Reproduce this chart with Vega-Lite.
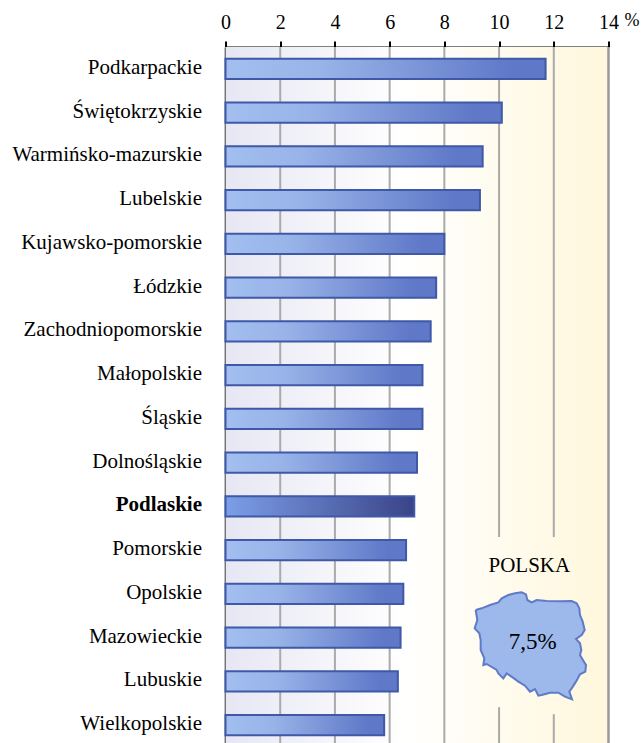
{"$schema":"https://vega.github.io/schema/vega-lite/v6.json","width":383,"height":696,"autosize":{"type":"none"},"padding":{"left":225.5,"top":47,"right":34.5,"bottom":0},"background":"white","view":{"stroke":null},"config":{"font":"Liberation Serif"},
"datasets":{"woj":[{"name":"Podkarpackie","v":11.7,"h":0},{"name":"Świętokrzyskie","v":10.1,"h":0},{"name":"Warmińsko-mazurskie","v":9.4,"h":0},{"name":"Lubelskie","v":9.3,"h":0},{"name":"Kujawsko-pomorskie","v":8.0,"h":0},{"name":"Łódzkie","v":7.7,"h":0},{"name":"Zachodniopomorskie","v":7.5,"h":0},{"name":"Małopolskie","v":7.2,"h":0},{"name":"Śląskie","v":7.2,"h":0},{"name":"Dolnośląskie","v":7.0,"h":0},{"name":"Podlaskie","v":6.9,"h":1},{"name":"Pomorskie","v":6.6,"h":0},{"name":"Opolskie","v":6.5,"h":0},{"name":"Mazowieckie","v":6.4,"h":0},{"name":"Lubuskie","v":6.3,"h":0},{"name":"Wielkopolskie","v":5.8,"h":0}],
"grid":[{"x":2,"a":0,"b":16},{"x":4,"a":0,"b":16},{"x":6,"a":0,"b":16},{"x":8,"a":0,"b":16},{"x":10,"a":0,"b":11.2},{"x":10,"a":15.09,"b":16},{"x":12,"a":0,"b":11.2},{"x":12,"a":15.25,"b":16}],
"map":[{"i":0,"mx":107,"my":210},{"i":1,"mx":125,"my":205},{"i":2,"mx":150,"my":195},{"i":3,"mx":175,"my":187},{"i":4,"mx":185,"my":175},{"i":5,"mx":205,"my":165},{"i":6,"mx":225,"my":160},{"i":7,"mx":245,"my":157},{"i":8,"mx":258,"my":163},{"i":9,"mx":262,"my":180},{"i":10,"mx":275,"my":187},{"i":11,"mx":290,"my":180},{"i":12,"mx":320,"my":183},{"i":13,"mx":360,"my":184},{"i":14,"mx":395,"my":183},{"i":15,"mx":410,"my":190},{"i":16,"mx":418,"my":205},{"i":17,"mx":420,"my":225},{"i":18,"mx":428,"my":245},{"i":19,"mx":434,"my":270},{"i":20,"mx":425,"my":285},{"i":21,"mx":408,"my":297},{"i":22,"mx":420,"my":310},{"i":23,"mx":424,"my":330},{"i":24,"mx":420,"my":345},{"i":25,"mx":430,"my":362},{"i":26,"mx":438,"my":375},{"i":27,"mx":436,"my":395},{"i":28,"mx":420,"my":403},{"i":29,"mx":408,"my":425},{"i":30,"mx":395,"my":445},{"i":31,"mx":388,"my":455},{"i":32,"mx":396,"my":478},{"i":33,"mx":375,"my":470},{"i":34,"mx":355,"my":458},{"i":35,"mx":330,"my":458},{"i":36,"mx":305,"my":465},{"i":37,"mx":295,"my":467},{"i":38,"mx":285,"my":447},{"i":39,"mx":270,"my":455},{"i":40,"mx":255,"my":437},{"i":41,"mx":235,"my":425},{"i":42,"mx":222,"my":415},{"i":43,"mx":200,"my":400},{"i":44,"mx":190,"my":415},{"i":45,"mx":175,"my":400},{"i":46,"mx":170,"my":390},{"i":47,"mx":140,"my":372},{"i":48,"mx":130,"my":375},{"i":49,"mx":133,"my":355},{"i":50,"mx":122,"my":330},{"i":51,"mx":122,"my":300},{"i":52,"mx":118,"my":280},{"i":53,"mx":104,"my":265},{"i":54,"mx":112,"my":240},{"i":55,"mx":107,"my":210}]},
"resolve":{"scale":{"x":"independent","y":"independent"}},
"layer":[
{"data":{"values":[{"a":0,"b":14}]},"mark":{"type":"rect","fill":{"gradient":"linear","x1":0,"y1":0,"x2":1,"y2":0,"stops":[{"offset":0,"color":"#e6e7f3"},{"offset":0.46,"color":"#ffffff"},{"offset":1,"color":"#fff7dc"}]}},"encoding":{"x":{"field":"a","type":"quantitative","scale":{"domain":[0,14]},"axis":null},"x2":{"field":"b"}}},
{"data":{"name":"grid"},"mark":{"type":"rule","stroke":"#aaaaaa","strokeWidth":2},"encoding":{"x":{"field":"x","type":"quantitative","scale":{"domain":[0,14]},"axis":null},"y":{"field":"a","type":"quantitative","scale":{"domain":[0,16],"range":[0,700]},"axis":null},"y2":{"field":"b"}}},
{"data":{"values":[{"x":14,"a":0,"b":16}]},"mark":{"type":"rule","stroke":"#999999","strokeWidth":2.5},"encoding":{"x":{"field":"x","type":"quantitative","scale":{"domain":[0,14]},"axis":null},"y":{"field":"a","type":"quantitative","scale":{"domain":[0,16],"range":[0,700]},"axis":null},"y2":{"field":"b"}}},
{"data":{"name":"woj"},"transform":[{"filter":"datum.h==0"}],"mark":{"type":"bar","stroke":"#3f58a8","strokeWidth":2,"fill":{"gradient":"linear","x1":0,"y1":0,"x2":1,"y2":0,"stops":[{"offset":0,"color":"#a2bff0"},{"offset":0.3,"color":"#98b3e8"},{"offset":0.9,"color":"#5f78c8"},{"offset":1,"color":"#5f78c8"}]}},"encoding":{"x":{"field":"v","type":"quantitative","scale":{"domain":[0,14]},"axis":{"orient":"top","values":[0,2,4,6,8,10,12,14],"grid":false,"title":null,"domainColor":"#000000","domainWidth":2,"tickColor":"#000000","tickWidth":2,"tickSize":6,"labelFontSize":20,"labelColor":"#000000","labelFont":"Liberation Serif","labelPadding":9,"labelFlush":false}},"y":{"field":"name","type":"nominal","sort":null,"scale":{"domain":["Podkarpackie","Świętokrzyskie","Warmińsko-mazurskie","Lubelskie","Kujawsko-pomorskie","Łódzkie","Zachodniopomorskie","Małopolskie","Śląskie","Dolnośląskie","Podlaskie","Pomorskie","Opolskie","Mazowieckie","Lubuskie","Wielkopolskie"],"range":[0,700],"paddingInner":0.54,"paddingOuter":0.27},"axis":{"title":null,"domainColor":"#000000","domainWidth":2.5,"ticks":false,"labelFontSize":21,"labelColor":"#000000","labelFont":"Liberation Serif","labelPadding":24,"labelLimit":300,"labelOffset":-1,"labelFontWeight":{"condition":{"test":"datum.value=='Podlaskie'","value":"bold"},"value":"normal"}}}}},
{"data":{"name":"woj"},"transform":[{"filter":"datum.h==1"}],"mark":{"type":"bar","stroke":"#3f58a8","strokeWidth":2,"fill":{"gradient":"linear","x1":0,"y1":0,"x2":1,"y2":0,"stops":[{"offset":0,"color":"#7c9fe8"},{"offset":1,"color":"#3a4388"}]}},"encoding":{"x":{"field":"v","type":"quantitative","scale":{"domain":[0,14]},"axis":null},"y":{"field":"name","type":"nominal","sort":null,"scale":{"domain":["Podkarpackie","Świętokrzyskie","Warmińsko-mazurskie","Lubelskie","Kujawsko-pomorskie","Łódzkie","Zachodniopomorskie","Małopolskie","Śląskie","Dolnośląskie","Podlaskie","Pomorskie","Opolskie","Mazowieckie","Lubuskie","Wielkopolskie"],"range":[0,700],"paddingInner":0.54,"paddingOuter":0.27},"axis":null}}},
{"data":{"name":"map"},"mark":{"type":"line","fill":"#9db8ea","stroke":"#5f7ac8","strokeWidth":2,"interpolate":"linear"},"encoding":{"x":{"field":"mx","type":"quantitative","scale":{"domain":[-643.5,505.5],"nice":false,"zero":false},"axis":null},"y":{"field":"my","type":"quantitative","scale":{"domain":[-1479,609],"nice":false,"zero":false,"reverse":true},"axis":null},"order":{"field":"i"}}},
{"data":{"values":[{"t":"POLSKA","tx":268,"ty":78,"s":21},{"t":"7,5%","tx":278,"ty":305,"s":23}]},"mark":{"type":"text","color":"#000000","font":"Liberation Serif"},"encoding":{"x":{"field":"tx","type":"quantitative","scale":{"domain":[-643.5,505.5],"nice":false,"zero":false},"axis":null},"y":{"field":"ty","type":"quantitative","scale":{"domain":[-1479,609],"nice":false,"zero":false,"reverse":true},"axis":null},"text":{"field":"t"},"size":{"field":"s","type":"quantitative","scale":null}}},
{"data":{"values":[{"t":"%","tx":14.86,"ty":0}]},"mark":{"type":"text","fill":"#000000","fontSize":18,"font":"Liberation Serif","dy":-26,"clip":false},"encoding":{"x":{"field":"tx","type":"quantitative","scale":{"domain":[0,14]},"axis":null},"y":{"field":"ty","type":"quantitative","scale":{"domain":[0,16],"range":[0,700]},"axis":null},"text":{"field":"t"}}}
]}
